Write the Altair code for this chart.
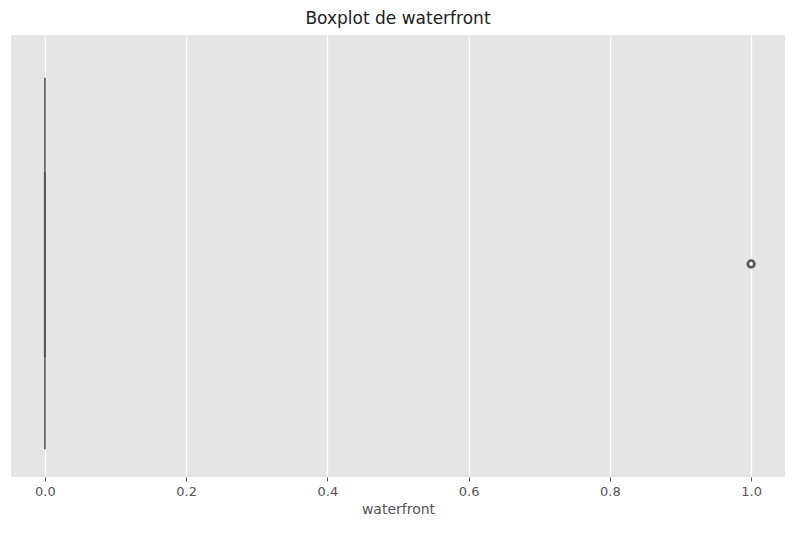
import altair as alt
import pandas as pd

# box stats (waterfront): all quartiles 0, whiskers 0, outlier at 1
q1 = [0.0]; median = [0.0]; q3 = [0.0]
wlo = [0.0]; whi = [0.0]
outliers = [1.0]
ticks = [0.0, 0.2, 0.4, 0.6, 0.8, 1.0]

xs = alt.Scale(domain=[-0.048, 1.048], nice=False, zero=False)
ys = alt.Scale(domain=[-0.5, 0.5], nice=False)

box = pd.DataFrame({"lo": wlo, "hi": whi, "q1": q1, "q3": q3, "med": median,
                    "y0": [-0.437], "y1": [0.403], "b0": [-0.229], "b1": [0.19]})
out = pd.DataFrame({"v": outliers, "y": [-0.018]})

xaxis = alt.Axis(values=ticks, format=".1f", title="waterfront", gridColor="white",
                 gridWidth=1.3, domain=False, tickColor="#555", labelColor="#555",
                 titleColor="#555", labelFontSize=13, titleFontSize=14, tickSize=4,
                 titleFontWeight="normal", labelPadding=4, titlePadding=4,
                 labelFont="DejaVu Sans", titleFont="DejaVu Sans")

whisk = alt.Chart(box).mark_rule(color="#666", strokeWidth=1.8).encode(
    x=alt.X("lo:Q", scale=xs, axis=xaxis), y=alt.Y("y0:Q", scale=ys, axis=None), y2="y1:Q")
inner = alt.Chart(box).mark_rule(color="#555", strokeWidth=2).encode(
    x=alt.X("q1:Q", scale=xs), y=alt.Y("b0:Q", scale=ys), y2="b1:Q")
pts = alt.Chart(out).mark_point(shape="circle", size=45, color="#555", strokeWidth=2.5,
                                opacity=1, filled=False).encode(
    x=alt.X("v:Q", scale=xs), y=alt.Y("y:Q", scale=ys))

chart = (whisk + inner + pts).properties(
    width=774, height=442, autosize=alt.AutoSizeParams(type="none"),
    padding={"left": 3, "top": 27, "right": 1, "bottom": 60},
    title=alt.Title("Boxplot de waterfront", fontSize=17, fontWeight="normal",
                    font="DejaVu Sans", color="#222", offset=7),
    background="white"
).configure_view(fill="#E5E5E5", stroke=None)

chart.save("out.html", embed_options={"renderer": "svg", "actions": False})
